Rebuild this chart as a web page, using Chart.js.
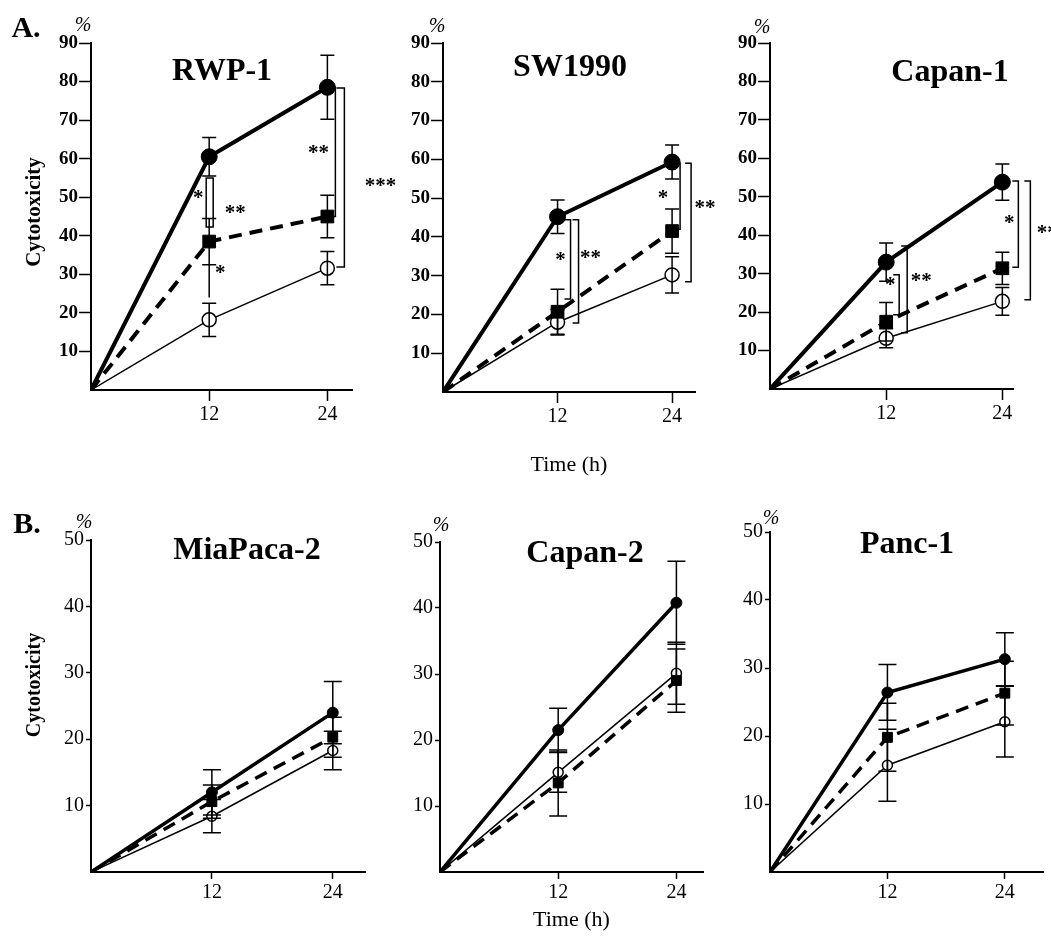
<!DOCTYPE html>
<html>
<head>
<meta charset="utf-8">
<script src="https://cdn.jsdelivr.net/npm/chart.js@4"></script>
<style>
  body { margin: 0; background: #fff; }
  #fig { position: relative; width: 1051px; height: 938px; overflow: hidden; background: #fff; }
  #fig canvas { position: absolute; }
  .lbl { position: absolute; transform: translate(-50%, -50%); white-space: nowrap;
         font-family: 'Liberation Serif', 'DejaVu Serif', serif; color: #000; line-height: 1; }
  .big { font-weight: bold; font-size: 32px; }
  .pct { font-style: italic; font-size: 20px; }
  .ylab { font-weight: bold; transform: translate(-50%, -50%) rotate(-90deg); }
</style>
</head>
<body>
<div id="fig"></div>
<script>
const timePoints = [0, 12, 24];
const xTickValues = [12, 24];

// A. RWP-1
const rwp1Filled = [0, 60.5, 78.5];
const rwp1FilledSd = [0, 5, 8.3];
const rwp1Square = [0, 38.5, 45];
const rwp1SquareSd = [0, 6, 5.5];
const rwp1Open = [0, 18.2, 31.6];
const rwp1OpenSd = [0, 4.3, 4.3];

// A. SW1990
const sw1990Filled = [0, 45.2, 59.3];
const sw1990FilledSd = [0, 4.3, 4.4];
const sw1990Square = [0, 20.7, 41.5];
const sw1990SquareSd = [0, 5.8, 5.7];
const sw1990Open = [0, 18, 30.2];
const sw1990OpenSd = [0, 3.3, 4.7];

// A. Capan-1
const capan1Filled = [0, 33, 53.8];
const capan1FilledSd = [0, 5, 4.7];
const capan1Square = [0, 17.5, 31.4];
const capan1SquareSd = [0, 5, 4.2];
const capan1Open = [0, 13.2, 22.8];
const capan1OpenSd = [0, 2.5, 3.6];

// B. MiaPaca-2
const miaFilled = [0, 12, 24];
const miaFilledSd = [0, 3.4, 4.7];
const miaSquare = [0, 10.6, 20.3];
const miaSquareSd = [0, 2.5, 3];
const miaOpen = [0, 8.4, 18.3];
const miaOpenSd = [0, 2.5, 2.9];

// B. Capan-2
const capan2Filled = [0, 21.5, 40.8];
const capan2FilledSd = [0, 3.3, 6.3];
const capan2Square = [0, 13.5, 29];
const capan2SquareSd = [0, 5, 4.8];
const capan2Open = [0, 15.1, 30.1];
const capan2OpenSd = [0, 3, 4.7];

// B. Panc-1
const panc1Filled = [0, 26.4, 31.3];
const panc1FilledSd = [0, 4.1, 3.9];
const panc1Square = [0, 19.8, 26.3];
const panc1SquareSd = [0, 5, 4.7];
const panc1Open = [0, 15.7, 22.1];
const panc1OpenSd = [0, 5.3, 5.2];

// significance marks (t = time point, dx = px offset from it)
const rwp1Marks = [
  { type: 'box', t: 12, dx1: -3, dx2: 4, y1: 55, y2: 42.3 },
  { type: 'vline', t: 12, dx: 0, y1: 32.5, y2: 24 },
  { type: 'text', t: 12, dx: -11, y: 50.6, text: '*' },
  { type: 'text', t: 12, dx: 26, y: 46.7, text: '**' },
  { type: 'text', t: 12, dx: 11, y: 31.1, text: '*' },
  { type: 'bracket', t: 24, dx: 8, y1: 78.5, y2: 45, cap: 7 },
  { type: 'text', t: 24, dx: -9, y: 62.2, text: '**' },
  { type: 'bracket', t: 24, dx: 17, y1: 78.3, y2: 31.9, cap: 8 },
  { type: 'text', t: 24, dx: 53, y: 53.7, text: '***' }
];
const sw1990Marks = [
  { type: 'bracket', t: 12, dx: 13, y1: 44.4, y2: 24, cap: 6 },
  { type: 'text', t: 12, dx: 3, y: 34.8, text: '*' },
  { type: 'bracket', t: 12, dx: 21, y1: 44.4, y2: 17.8, cap: 6 },
  { type: 'text', t: 12, dx: 33, y: 35.3, text: '**' },
  { type: 'bracket', t: 24, dx: 8, y1: 59, y2: 42, cap: 6 },
  { type: 'text', t: 24, dx: -9, y: 50.8, text: '*' },
  { type: 'bracket', t: 24, dx: 19, y1: 59, y2: 28.4, cap: 6 },
  { type: 'text', t: 24, dx: 33, y: 48.2, text: '**' }
];
const capan1Marks = [
  { type: 'bracket', t: 12, dx: 13, y1: 29.7, y2: 19.3, cap: 6 },
  { type: 'text', t: 12, dx: 4, y: 27.8, text: '*' },
  { type: 'bracket', t: 12, dx: 21, y1: 37.2, y2: 14.6, cap: 6 },
  { type: 'text', t: 12, dx: 35, y: 28.9, text: '**' },
  { type: 'bracket', t: 24, dx: 16, y1: 54.1, y2: 31.7, cap: 6 },
  { type: 'text', t: 24, dx: 7, y: 44, text: '*' },
  { type: 'bracket', t: 24, dx: 28, y1: 54.1, y2: 23.2, cap: 6 },
  { type: 'text', t: 24, dx: 45, y: 41.4, text: '**' }
];

const SERIF = "'Liberation Serif', 'DejaVu Serif', serif";

// canvas box (page px) and the plot area inside it
const panels = [
  { left: 0, top: 0, w: 400, h: 480, area: { l: 91, t: 43, r: 352, b: 390 }, yMax: 90, xMax: 26.5, big: true,
    sets: [[rwp1Filled, rwp1FilledSd], [rwp1Square, rwp1SquareSd], [rwp1Open, rwp1OpenSd]], marks: rwp1Marks },
  { left: 360, top: 0, w: 360, h: 480, area: { l: 443, t: 43, r: 695, b: 392 }, yMax: 90, xMax: 26.4, big: true, xTitle: 'Time (h)', titlePad: 2,
    sets: [[sw1990Filled, sw1990FilledSd], [sw1990Square, sw1990SquareSd], [sw1990Open, sw1990OpenSd]], marks: sw1990Marks },
  { left: 700, top: 0, w: 351, h: 480, area: { l: 770, t: 43, r: 1013, b: 389 }, yMax: 90, xMax: 25.1, big: true,
    sets: [[capan1Filled, capan1FilledSd], [capan1Square, capan1SquareSd], [capan1Open, capan1OpenSd]], marks: capan1Marks },
  { left: 0, top: 480, w: 400, h: 458, area: { l: 91, t: 540, r: 365, b: 872 }, yMax: 50, xMax: 27.2, big: false,
    sets: [[miaFilled, miaFilledSd], [miaSquare, miaSquareSd], [miaOpen, miaOpenSd]], marks: [] },
  { left: 360, top: 480, w: 360, h: 458, area: { l: 440, t: 542, r: 703, b: 872 }, yMax: 50, xMax: 26.7, big: false, xTitle: 'Time (h)', titlePad: 5,
    sets: [[capan2Filled, capan2FilledSd], [capan2Square, capan2SquareSd], [capan2Open, capan2OpenSd]], marks: [] },
  { left: 700, top: 480, w: 351, h: 458, area: { l: 770, t: 532, r: 1049, b: 872 }, yMax: 50, xMax: 27.9, big: false,
    sets: [[panc1Filled, panc1FilledSd], [panc1Square, panc1SquareSd], [panc1Open, panc1OpenSd]], marks: [] }
];

const kinds = [
  { point: 'circle', fill: '#000', lineA: 4, lineB: 3.5, rA: 8, rB: 5.5, pbw: 1, dash: [] },
  { point: 'rect', fill: '#000', lineA: 4, lineB: 3.5, rA: 9, rB: 7, pbw: 1, dash: [13, 8] },
  { point: 'circle', fill: '#fff', lineA: 1.5, lineB: 1.5, rA: 7, rB: 5, pbw: 1.5, dash: [] }
];

const errorBars = {
  id: 'errorBars',
  afterDatasetsDraw(chart) {
    const { ctx, scales: { x, y } } = chart;
    const half = chart.options.big ? 7 : 9;
    ctx.save();
    ctx.strokeStyle = '#000';
    ctx.lineWidth = 1.5;
    chart.data.datasets.forEach(ds => {
      ds.data.forEach((pt, i) => {
        const sd = ds.errors[i];
        if (!sd) return;
        const px = x.getPixelForValue(pt.x);
        const hi = y.getPixelForValue(pt.y + sd);
        const lo = y.getPixelForValue(pt.y - sd);
        ctx.beginPath();
        ctx.moveTo(px, hi); ctx.lineTo(px, lo);
        ctx.moveTo(px - half, hi); ctx.lineTo(px + half, hi);
        ctx.moveTo(px - half, lo); ctx.lineTo(px + half, lo);
        ctx.stroke();
      });
    });
    ctx.restore();
  }
};

function marksPlugin(marks) {
  return {
    id: 'sigMarks',
    afterDraw(chart) {
      const { ctx, scales: { x, y } } = chart;
      ctx.save();
      ctx.strokeStyle = '#000';
      ctx.fillStyle = '#000';
      ctx.lineWidth = 1.5;
      ctx.font = 'bold 21px ' + SERIF;
      ctx.textAlign = 'center';
      ctx.textBaseline = 'alphabetic';
      marks.forEach(m => {
        const bx = x.getPixelForValue(m.t);
        if (m.type === 'text') {
          ctx.fillText(m.text, bx + m.dx, y.getPixelForValue(m.y) + 9);
          return;
        }
        ctx.beginPath();
        if (m.type === 'bracket') {
          const px = bx + m.dx;
          const a = y.getPixelForValue(m.y1), b = y.getPixelForValue(m.y2);
          ctx.moveTo(px - m.cap, a); ctx.lineTo(px, a); ctx.lineTo(px, b); ctx.lineTo(px - m.cap, b);
        } else if (m.type === 'box') {
          const a = y.getPixelForValue(m.y1), b = y.getPixelForValue(m.y2);
          ctx.rect(bx + m.dx1, a, m.dx2 - m.dx1, b - a);
        } else if (m.type === 'vline') {
          ctx.moveTo(bx + m.dx, y.getPixelForValue(m.y1));
          ctx.lineTo(bx + m.dx, y.getPixelForValue(m.y2));
        }
        ctx.stroke();
      });
      ctx.restore();
    }
  };
}

const fig = document.getElementById('fig');

panels.forEach(p => {
  const canvas = document.createElement('canvas');
  canvas.width = p.w;
  canvas.height = p.h;
  canvas.style.left = p.left + 'px';
  canvas.style.top = p.top + 'px';
  fig.appendChild(canvas);

  const datasets = p.sets.map(([vals, sds], k) => {
    const st = kinds[k];
    return {
      data: timePoints.map((t, i) => ({ x: t, y: vals[i] })),
      errors: sds,
      borderColor: '#000',
      borderWidth: p.big ? st.lineA : st.lineB,
      borderDash: st.dash,
      pointStyle: st.point,
      pointRadius: timePoints.map(t => t === 0 ? 0 : (p.big ? st.rA : st.rB)),
      pointBackgroundColor: st.fill,
      pointBorderColor: '#000',
      pointBorderWidth: st.pbw,
      tension: 0,
      fill: false
    };
  });

  const tickFontY = p.big ? { family: SERIF, size: 19, weight: 'bold' } : { family: SERIF, size: 20 };

  new Chart(canvas, {
    type: 'line',
    data: { datasets },
    options: {
      big: p.big,
      responsive: false,
      animation: false,
      devicePixelRatio: 1,
      layout: { padding: { left: 0, top: p.area.t - p.top, right: p.left + p.w - p.area.r, bottom: 0 } },
      plugins: { legend: { display: false }, tooltip: { enabled: false } },
      scales: {
        x: {
          type: 'linear',
          min: 0,
          max: p.xMax,
          afterBuildTicks: s => { s.ticks = xTickValues.map(v => ({ value: v })); },
          afterFit: s => { s.height = p.top + p.h - p.area.b; },
          border: { display: true, color: '#000', width: 2 },
          grid: { drawOnChartArea: false, color: '#000', tickColor: '#000', tickLength: p.big ? 11 : 7, tickWidth: 1.5 },
          ticks: { color: '#000', font: { family: SERIF, size: 20 }, padding: 2, maxRotation: 0 },
          title: {
            display: !!p.xTitle,
            text: p.xTitle || '',
            color: '#000',
            font: { family: SERIF, size: 22 },
            padding: { top: 0, bottom: p.titlePad || 0 }
          }
        },
        y: {
          min: 0,
          max: p.yMax,
          afterFit: s => { s.width = p.area.l - p.left; },
          border: { display: true, color: '#000', width: 2 },
          grid: {
            drawOnChartArea: false,
            tickLength: p.big ? 12 : 5,
            tickWidth: 1.5,
            tickColor: c => (c.tick && c.tick.value === 0) ? 'rgba(0,0,0,0)' : '#000'
          },
          ticks: {
            stepSize: 10,
            color: '#000',
            font: tickFontY,
            padding: p.big ? 1 : 2,
            callback: v => v === 0 ? '' : v
          }
        }
      }
    },
    plugins: [errorBars, marksPlugin(p.marks)]
  });
});

// panel texts
const labels = [
  ['A.', 26, 27, 'big', 30],
  ['B.', 27, 523, 'big', 30],
  ['RWP-1', 222, 69, 'big'],
  ['SW1990', 570, 65, 'big'],
  ['Capan-1', 950, 70, 'big'],
  ['MiaPaca-2', 247, 548, 'big'],
  ['Capan-2', 585, 551, 'big'],
  ['Panc-1', 907, 542, 'big'],
  ['%', 83, 24, 'pct'],
  ['%', 437, 25, 'pct'],
  ['%', 762, 26, 'pct'],
  ['%', 84, 521, 'pct'],
  ['%', 441, 524, 'pct'],
  ['%', 771, 517, 'pct'],
  ['Cytotoxicity', 33, 212, 'ylab', 21],
  ['Cytotoxicity', 33, 685, 'ylab', 20]
];
labels.forEach(([text, x, y, cls, size]) => {
  const d = document.createElement('div');
  d.className = 'lbl ' + cls;
  d.textContent = text;
  d.style.left = x + 'px';
  d.style.top = y + 'px';
  if (size) d.style.fontSize = size + 'px';
  fig.appendChild(d);
});
</script>
</body>
</html>
